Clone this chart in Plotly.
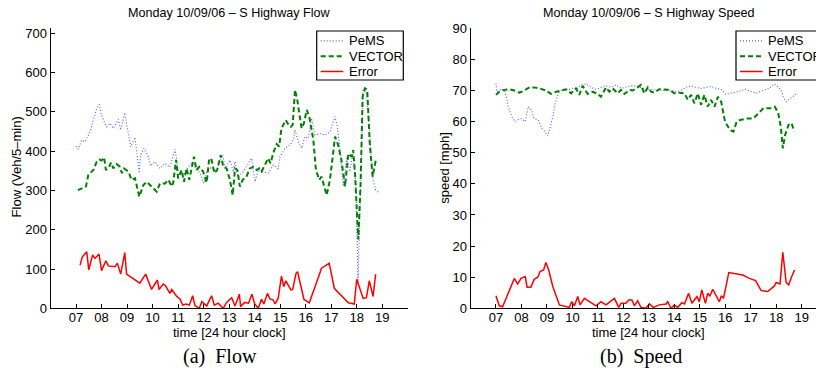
import plotly.graph_objects as go

# ---------------- data ----------------
hour_ticks = [7, 8, 9, 10, 11, 12, 13, 14, 15, 16, 17, 18, 19]
hour_labels = ["07", "08", "09", "10", "11", "12", "13", "14", "15", "16", "17", "18", "19"]
flow_ticks = [0, 100, 200, 300, 400, 500, 600, 700]
speed_ticks = [0, 10, 20, 30, 40, 50, 60, 70, 80, 90]

flow_pems_t = [7.0, 7.09, 7.22, 7.35, 7.55, 7.68, 7.81, 7.91, 7.98, 8.07, 8.2, 8.33, 8.46, 8.66, 8.75, 8.91,
               9.01, 9.14, 9.31, 9.4, 9.48, 9.53, 9.66, 9.83, 9.92, 10.09, 10.29, 10.49, 10.68, 10.88, 10.94,
               11.0, 11.2, 11.4, 11.53, 11.73, 11.86, 12.01, 12.12, 12.31, 12.51, 12.64, 12.75, 12.84, 13.03,
               13.16, 13.23, 13.36, 13.55, 13.88, 14.01, 14.14, 14.34, 14.53, 14.73, 14.92, 14.99, 15.19, 15.38,
               15.51, 15.58, 15.71, 15.84, 15.97, 16.1, 16.23, 16.36, 16.56, 16.75, 16.95, 17.14, 17.23, 17.33,
               17.47, 17.6, 17.73, 17.84, 17.97, 18.05, 18.15, 18.25, 18.38, 18.51, 18.64, 18.74, 18.88]
flow_pems = [413, 405, 428, 424, 449, 479, 509, 519, 496, 479, 462, 471, 458, 481, 454, 498,
             462, 411, 435, 382, 344, 390, 407, 386, 362, 373, 356, 369, 359, 405, 373,
             352, 339, 360, 369, 352, 344, 318, 348, 360, 348, 377, 390, 356, 377,
             348, 373, 335, 348, 382, 322, 352, 348, 344, 365, 356, 386, 407, 416,
             428, 454, 424, 407, 437, 433, 484, 441, 445, 441, 449, 488, 466, 411,
             310, 382, 348, 394, 318, 65, 300, 556, 547, 428, 327, 301, 293]

flow_vector_t = [7.07, 7.22, 7.39, 7.48, 7.68, 7.81, 7.91, 8.0, 8.1, 8.17, 8.31, 8.37, 8.46, 8.59, 8.7, 8.8,
                 8.88, 9.05, 9.18, 9.31, 9.48, 9.64, 9.77, 9.96, 10.16, 10.29, 10.49, 10.62, 10.75, 10.81,
                 10.92, 11.0, 11.14, 11.23, 11.33, 11.44, 11.62, 11.72, 11.83, 11.98, 12.12, 12.22, 12.31,
                 12.42, 12.53, 12.67, 12.77, 12.9, 13.03, 13.14, 13.23, 13.32, 13.42, 13.53, 13.68, 13.81,
                 13.95, 14.08, 14.18, 14.27, 14.4, 14.53, 14.62, 14.73, 14.86, 14.96, 15.05, 15.14, 15.22,
                 15.33, 15.42, 15.49, 15.58, 15.67, 15.75, 15.84, 15.93, 16.04, 16.14, 16.3, 16.4, 16.53,
                 16.62, 16.72, 16.82, 16.95, 17.08, 17.15, 17.27, 17.4, 17.54, 17.6, 17.67, 17.8, 17.86,
                 17.93, 18.02, 18.06, 18.15, 18.23, 18.32, 18.41, 18.51, 18.62, 18.67, 18.75]
flow_vector = [301, 305, 310, 339, 352, 373, 379, 376, 384, 352, 362, 371, 356, 367, 362, 344,
               356, 348, 327, 331, 284, 314, 322, 310, 297, 318, 318, 327, 310, 320,
               378, 331, 352, 322, 356, 327, 386, 352, 360, 348, 320, 382, 378,
               344, 352, 390, 360, 356, 327, 288, 356, 352, 310, 327, 335, 356,
               360, 352, 356, 348, 367, 382, 369, 395, 418, 412, 458, 471, 479,
               467, 462, 467, 556, 530, 496, 458, 471, 505, 488, 428, 352, 327,
               335, 314, 288, 327, 399, 437, 416, 377, 310, 352, 394, 386, 403,
               344, 233, 175, 318, 539, 560, 556, 420, 335, 352, 378]

flow_err_t = [7.16, 7.25, 7.42, 7.5, 7.65, 7.74, 7.9, 8.0, 8.17, 8.27, 8.53, 8.62, 8.75, 8.91, 8.98, 9.18,
              9.5, 9.73, 9.96, 10.19, 10.25, 10.42, 10.5, 10.68, 10.75, 10.94, 11.07, 11.18, 11.31, 11.44,
              11.57, 11.66, 11.83, 11.93, 12.12, 12.31, 12.42, 12.57, 12.77, 12.9, 13.1, 13.23, 13.4, 13.45,
              13.6, 13.76, 13.89, 14.0, 14.14, 14.27, 14.36, 14.5, 14.6, 14.73, 14.8, 14.92, 15.05, 15.14,
              15.22, 15.42, 15.49, 15.62, 15.68, 15.93, 16.14, 16.39, 16.62, 16.92, 17.12, 17.67, 17.9,
              18.0, 18.25, 18.38, 18.49, 18.64, 18.74]
flow_err = [110, 131, 144, 98, 136, 127, 138, 96, 121, 108, 106, 115, 87, 142, 87, 78,
            64, 87, 48, 72, 48, 62, 58, 38, 48, 31, 24, 8, 11, 8,
            32, 7, 0, 17, 6, 32, 8, 13, 0, 15, 27, 6, 36, 4,
            15, 13, 36, 11, 0, 23, 11, 38, 24, 21, 11, 25, 82, 55,
            70, 47, 48, 89, 93, 23, 14, 59, 102, 115, 51, 14, 11,
            74, 25, 27, 70, 30, 87]

speed_pems_t = [7.0, 7.03, 7.2, 7.33, 7.42, 7.48, 7.62, 7.75, 7.88, 8.01, 8.14, 8.27, 8.4, 8.49, 8.66, 8.79,
                8.92, 9.03, 9.12, 9.23, 9.32, 9.45, 9.62, 9.81, 10.01, 10.14, 10.34, 10.53, 10.73, 10.93,
                11.12, 11.32, 11.52, 11.71, 11.91, 12.1, 12.3, 12.5, 12.69, 12.89, 13.09, 13.28, 13.48,
                13.68, 13.87, 14.07, 14.26, 14.46, 14.66, 14.85, 15.05, 15.25, 15.44, 15.64, 15.84, 16.01,
                16.23, 16.49, 16.79, 17.01, 17.21, 17.47, 17.73, 17.93, 18.06, 18.19, 18.28, 18.39, 18.52,
                18.65, 18.85]
speed_pems = [72.3, 69.6, 70.4, 70.2, 67.5, 64.8, 61.6, 60.0, 60.7, 61.0, 60.0, 64.8, 63.7, 61.0, 60.5, 57.9,
              56.8, 55.4, 57.9, 61.6, 65.9, 69.1, 70.4, 70.2, 70.7, 70.2, 71.8, 72.1, 71.0, 70.4,
              71.0, 71.5, 71.0, 71.8, 70.7, 71.0, 71.5, 71.5, 71.0, 70.2, 70.4, 70.2, 70.2,
              70.0, 70.0, 69.6, 70.0, 71.0, 71.5, 71.0, 70.7, 71.0, 71.3, 70.7, 70.4, 68.8,
              69.1, 69.6, 70.4, 69.6, 69.1, 70.0, 70.7, 72.1, 71.3, 70.2, 68.0, 66.4, 67.2,
              68.0, 69.3]

speed_vector_t = [7.0, 7.13, 7.33, 7.52, 7.72, 7.92, 8.11, 8.31, 8.5, 8.7, 8.96, 9.16, 9.36, 9.55, 9.75, 9.95,
                  10.14, 10.27, 10.4, 10.6, 10.8, 10.99, 11.12, 11.32, 11.45, 11.58, 11.78, 11.91, 12.04,
                  12.24, 12.37, 12.56, 12.69, 12.82, 12.96, 13.09, 13.22, 13.41, 13.61, 13.81, 14.0, 14.2,
                  14.4, 14.53, 14.66, 14.79, 14.92, 15.05, 15.18, 15.31, 15.44, 15.58, 15.71, 15.84, 15.99,
                  16.19, 16.32, 16.45, 16.58, 16.84, 17.1, 17.3, 17.5, 17.76, 17.95, 18.08, 18.18, 18.26,
                  18.35, 18.48, 18.61, 18.7]
speed_vector = [68.6, 69.6, 70.2, 70.4, 70.0, 69.3, 70.0, 71.0, 71.0, 70.7, 70.0, 68.9, 69.6, 70.0, 70.4, 69.1,
                70.7, 68.6, 71.5, 68.9, 69.6, 68.9, 68.0, 71.0, 69.6, 70.7, 69.1, 70.2, 68.9,
                70.2, 70.0, 71.0, 71.8, 69.1, 71.0, 69.6, 69.3, 70.4, 70.2, 70.2, 69.1, 69.3,
                69.1, 67.0, 68.6, 65.9, 69.1, 65.4, 68.6, 64.8, 67.0, 64.8, 68.0, 66.4, 60.0,
                57.3, 56.8, 60.0, 60.5, 61.0, 61.0, 62.7, 64.3, 64.3, 64.8, 62.7, 58.4, 51.4,
                55.7, 58.9, 59.5, 56.8]

speed_err_t = [7.0, 7.13, 7.26, 7.39, 7.52, 7.72, 7.85, 7.98, 8.15, 8.22, 8.37, 8.5, 8.64, 8.73, 8.87, 8.96,
               9.07, 9.23, 9.49, 9.88, 9.97, 10.08, 10.21, 10.3, 10.47, 10.66, 10.93, 11.12, 11.32, 11.65,
               11.82, 11.91, 12.1, 12.21, 12.34, 12.43, 12.56, 12.69, 12.89, 13.02, 13.18, 13.41, 13.68,
               13.74, 13.87, 14.0, 14.13, 14.3, 14.4, 14.56, 14.69, 14.89, 14.98, 15.08, 15.22, 15.31,
               15.4, 15.51, 15.77, 15.84, 15.93, 16.14, 16.56, 16.69, 16.95, 17.19, 17.41, 17.67, 17.93,
               18.0, 18.15, 18.26, 18.39, 18.49, 18.61, 18.72]
speed_err = [4.0, 0.8, 0.5, 3.2, 5.9, 9.6, 7.8, 9.6, 10.2, 6.8, 6.8, 9.3, 10.0, 11.8, 12.3, 14.7,
             12.3, 7.0, 1.1, 0.3, 2.1, 0.8, 3.8, 1.1, 3.2, 2.1, 0.8, 2.1, 1.1, 3.2,
             0.3, 1.6, 1.6, 2.7, 2.7, 0.8, 2.4, 0.3, 0.0, 1.4, 0.3, 1.1, 1.4,
             2.1, 0.0, 1.1, 0.3, 1.8, 1.4, 4.8, 1.6, 3.8, 2.1, 5.9, 1.6, 4.8,
             4.0, 6.1, 2.1, 4.0, 3.2, 11.5, 11.0, 10.7, 9.6, 8.9, 5.7, 5.4, 7.2,
             8.3, 7.8, 18.0, 8.3, 7.5, 10.2, 12.3]

series_names = ["PeMS", "VECTOR", "Error"]

# ---------------- styles / layout helpers ----------------
W, H = 816, 368
FONT = "Liberation Sans, Arial, Helvetica, sans-serif"
SERIF = "Liberation Serif, Times New Roman, serif"
styles = {
    "PeMS": dict(color="rgb(85,85,255)", width=1.1, dash="1px,2px"),
    "VECTOR": dict(color="#008000", width=2, dash="5px,3px"),
    "Error": dict(color="#ff0000", width=1.5, dash="solid"),
}


def px(x):
    return x / W


def py(y):
    return 1 - y / H


fig = go.Figure()

panels = [
    ("x", "y", [(flow_pems_t, flow_pems), (flow_vector_t, flow_vector), (flow_err_t, flow_err)]),
    ("x2", "y2", [(speed_pems_t, speed_pems), (speed_vector_t, speed_vector), (speed_err_t, speed_err)]),
]
for xa, ya, data in panels:
    for name, (t, v) in zip(series_names, data):
        fig.add_trace(go.Scatter(x=t, y=v, mode="lines", name=name, xaxis=xa, yaxis=ya,
                                 line=styles[name], showlegend=False))

axis_common = dict(showgrid=False, zeroline=False, showline=True, linecolor="black", linewidth=1,
                   ticks="inside", ticklen=4, tickcolor="black", tickwidth=1, mirror=False,
                   tickfont=dict(family=FONT, size=13, color="black"))

y_bottom, y_top = 308.3, 27.5
fig.update_layout(
    width=W, height=H, margin=dict(l=0, r=0, t=0, b=0, autoexpand=False),
    paper_bgcolor="white", plot_bgcolor="white",
    xaxis=dict(domain=[px(50.5), px(407.8)], range=[6, 20], tickvals=hour_ticks, ticktext=hour_labels,
               anchor="y", ticklabelstandoff=-3, **axis_common),
    yaxis=dict(domain=[py(y_bottom), py(y_top)], range=[0, 714.8], tickvals=flow_ticks,
               anchor="x", **axis_common),
    xaxis2=dict(domain=[px(470.5), 1.0], range=[6, 6 + (W - 470.5) / 25.475], tickvals=hour_ticks,
                ticktext=hour_labels, anchor="y2", ticklabelstandoff=-3, **axis_common),
    yaxis2=dict(domain=[py(y_bottom), py(y_top)], range=[0, 90.25], tickvals=speed_ticks,
                anchor="x2", **axis_common),
)

ann = []


def text(x, y, s, size=13, family=FONT, angle=0, xanchor="center"):
    ann.append(dict(x=px(x), y=py(y), xref="paper", yref="paper", text=s, showarrow=False,
                    xanchor=xanchor, yanchor="middle", textangle=angle,
                    font=dict(family=family, size=size, color="black")))


# titles
text(229, 12.7, "Monday 10/09/06 – S Highway Flow", size=12.6)
text(648.7, 12.7, "Monday 10/09/06 – S Highway Speed", size=12.6)
# axis titles
text(229.2, 332, "time [24 hour clock]")
text(648.5, 332, "time [24 hour clock]")
text(16, 167.4, "Flow (Veh/5–min)", angle=-90)
text(444.3, 167.5, "speed [mph]", angle=-90)
# captions
text(220.4, 356, "(a)\u00a0\u00a0Flow", size=20, family=SERIF)
text(640.7, 356, "(b)\u00a0\u00a0Speed", size=20, family=SERIF)

# legends (one per panel), built from the series styles
shapes = []
for x0, x1 in [(316.7, 403.3), (736.0, 830.0)]:
    shapes.append(dict(type="rect", xref="paper", yref="paper", x0=px(x0), x1=px(x1),
                       y0=py(80), y1=py(31), line=dict(color="black", width=1.2),
                       fillcolor="white", layer="above"))
    for i, name in enumerate(series_names):
        yy = 40.9 + i * 15.3
        st = styles[name]
        shapes.append(dict(type="line", xref="paper", yref="paper", x0=px(x0 + 4), x1=px(x0 + 26.6),
                           y0=py(yy), y1=py(yy), layer="above",
                           line=dict(color=st["color"], width=st["width"], dash=st["dash"])))
        text(x0 + 30, yy, name, xanchor="left")

fig.update_layout(annotations=ann, shapes=shapes)
fig.write_html("out.html")
